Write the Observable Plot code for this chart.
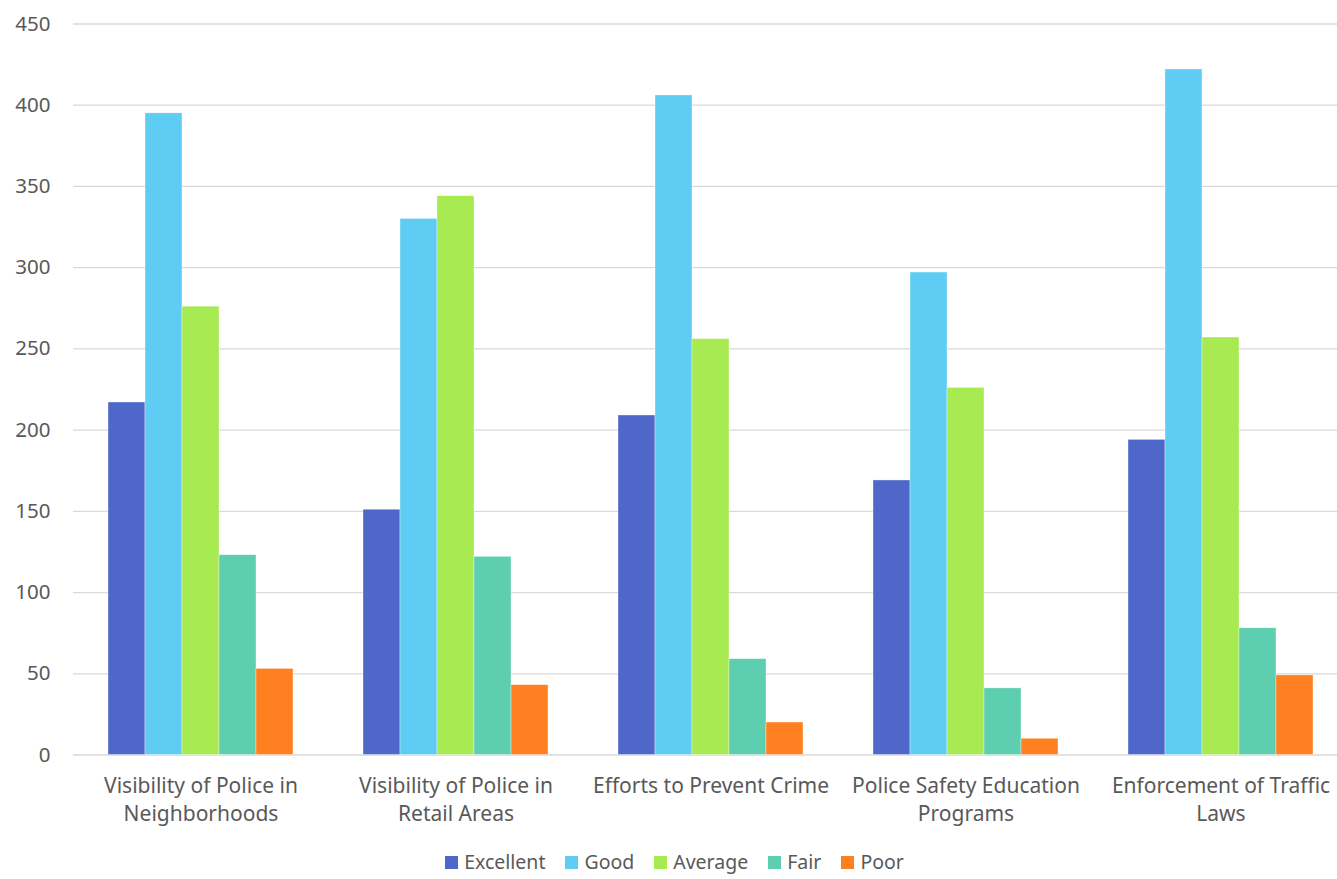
<!DOCTYPE html>
<html>
<head>
<meta charset="utf-8">
<script src="https://cdn.jsdelivr.net/npm/d3@7"></script>
<script src="https://cdn.jsdelivr.net/npm/@observablehq/plot@0.6"></script>
<style>
  html, body { margin: 0; padding: 0; background: #fff; overflow: hidden; width: 1337px; height: 879px; }
  body { font-family: "Noto Sans", sans-serif; color: #595959; }
  #chart { position: absolute; left: 0; top: 0; width: 1337px; overflow: hidden; }
  #legend { position: absolute; left: 6px; top: 849px; width: 1337px; display: flex; justify-content: center; font-size: 19.5px; line-height: 26px; color: #595959; }
  .item { display: flex; align-items: center; margin: 0 10px; }
  .sw { width: 13px; height: 13px; margin-right: 6px; }
</style>
</head>
<body>
<div id="chart"></div>
<div id="legend"></div>
<script>
const categories = [
  "Visibility of Police in Neighborhoods",
  "Visibility of Police in Retail Areas",
  "Efforts to Prevent Crime",
  "Police Safety Education Programs",
  "Enforcement of Traffic Laws"
];
const categoryLabels = [
  "Visibility of Police in\nNeighborhoods",
  "Visibility of Police in\nRetail Areas",
  "Efforts to Prevent Crime",
  "Police Safety Education\nPrograms",
  "Enforcement of Traffic\nLaws"
];
const seriesNames = ["Excellent", "Good", "Average", "Fair", "Poor"];
const seriesColors = ["#4e67c8", "#5eccf3", "#a7ea52", "#5dceaf", "#ff8021"];
const excellent = [217, 151, 209, 169, 194];
const good      = [395, 330, 406, 297, 422];
const average   = [276, 344, 256, 226, 257];
const fair      = [123, 122, 59, 41, 78];
const poor      = [53, 43, 20, 10, 49];
const yTicks = [0, 50, 100, 150, 200, 250, 300, 350, 400, 450];

const seriesValues = [excellent, good, average, fair, poor];
const data = [];
categories.forEach((c, i) => {
  seriesNames.forEach((s, j) => data.push({category: c, series: s, value: seriesValues[j][i]}));
});
const labelRows = categories.map((c, i) => ({category: c, label: categoryLabels[i]}));

const chart = Plot.plot({
  width: 1337,
  height: 845,
  marginTop: 23.5,
  marginBottom: 90.5,
  marginLeft: 73,
  marginRight: -11.5,
  style: {fontSize: "21px", fontFamily: "Noto Sans, sans-serif", color: "#595959", background: "white", overflow: "visible"},
  fx: {domain: categories, padding: 0, axis: null, label: null},
  x: {domain: seriesNames, paddingInner: 0, paddingOuter: 0.91, axis: null, label: null},
  y: {domain: [0, 450], ticks: yTicks, label: null},
  color: {domain: seriesNames, range: seriesColors},
  marks: [
    Plot.ruleY(yTicks, {stroke: "#d9d9d9", strokeWidth: 1.3}),
    Plot.barY(data, {fx: "category", x: "series", y: "value", fill: "series", stroke: "white", strokeWidth: 0.6, strokeOpacity: 0.6}),
    Plot.axisY({ticks: yTicks, tickSize: 0, tickPadding: 23, label: null, fill: "#595959", fontSize: 20.5}),
    Plot.text(labelRows, {fx: "category", text: "label", frameAnchor: "bottom", lineAnchor: "top", dy: 17.5, lineHeight: 1.36, fill: "#595959", fontSize: 21})
  ]
});
document.getElementById("chart").appendChild(chart);

const legend = document.getElementById("legend");
seriesNames.forEach((s, j) => {
  const it = document.createElement("div");
  it.className = "item";
  const sw = document.createElement("div");
  sw.className = "sw";
  sw.style.background = seriesColors[j];
  const t = document.createElement("span");
  t.textContent = s;
  it.appendChild(sw); it.appendChild(t);
  legend.appendChild(it);
});
</script>
</body>
</html>
